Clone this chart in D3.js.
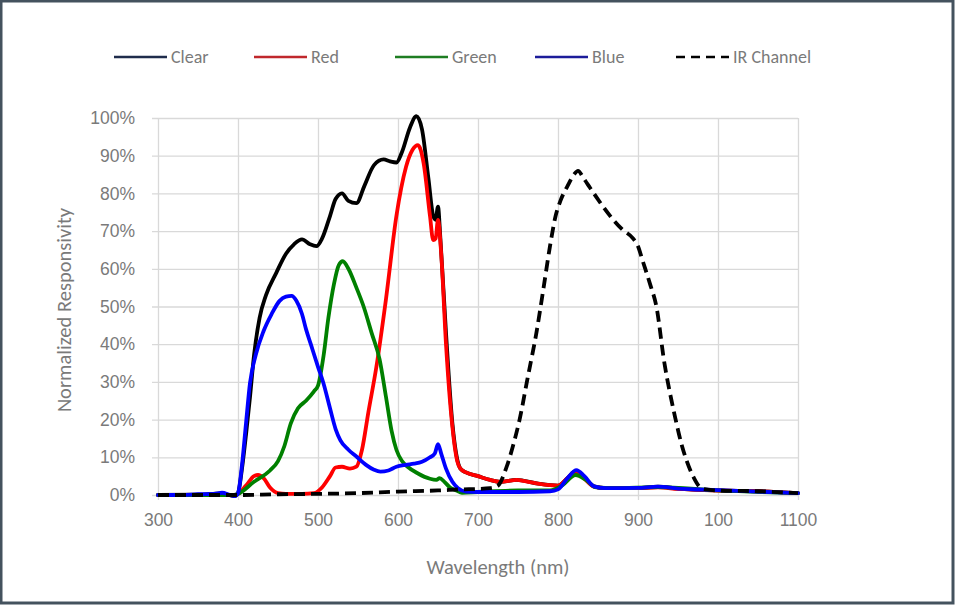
<!DOCTYPE html>
<html><head><meta charset="utf-8">
<script src="https://cdnjs.cloudflare.com/ajax/libs/d3/7.8.5/d3.min.js"></script>
<style>
html,body{margin:0;padding:0;background:#fff;}
svg{display:block;font-family:Carlito, Calibri, Lato, sans-serif;}
</style></head>
<body>
<svg id="chart" width="955" height="607"></svg>
<script>
const xTicks = [300,400,500,600,700,800,900,1000,1100];
const xTickLabels = ["300","400","500","600","700","800","900","100","1100"];
const yTicks = [0,10,20,30,40,50,60,70,80,90,100];

const clear = [[300,0],[350,0.1],[380,0.4],[395,-0.3],[400,0.5],[405,7],[410,16],[415,26],[420,37],[427,47],[435,53],[448,59],[460,64],[470,66.5],[480,67.8],[490,66.5],[498,66],[505,68],[515,74],[522,78.5],[530,80],[538,78],[548,77.4],[558,82],[570,87.5],[582,89],[590,88.5],[598,88.2],[605,91],[615,97.5],[623,100.5],[630,97],[638,84],[644,74],[647,73],[650,76.5],[653,68],[660,43],[668,19],[674,9.5],[678,7],[685,6],[700,5],[715,4],[728,3.5],[748,4],[775,3],[800,2.5],[812,4.5],[822,6.3],[832,4.7],[845,2.3],[860,1.8],[900,1.9],[925,2.2],[950,1.7],[1000,1.2],[1050,1],[1100,0.5]];
const red = [[300,0],[395,0],[400,0.3],[410,2.5],[420,5],[425,5.3],[432,4.5],[440,2],[450,0.5],[460,0.3],[480,0.3],[495,0.5],[505,2],[515,5],[522,7.3],[530,7.5],[540,7],[548,7.5],[555,12],[563,22],[573,34],[585,52],[598,74],[610,87],[618,91.5],[625,92.8],[632,88],[640,74],[644,67.6],[647,68],[650,73],[654,64],[660,40],[668,18],[674,9],[678,7],[685,6],[700,5],[715,4],[728,3.5],[740,3.8],[748,4],[760,3.6],[775,3],[790,2.6],[800,2.5],[812,4.5],[822,6.2],[832,4.5],[845,2.2],[860,1.8],[900,1.8],[925,2],[950,1.6],[1000,1.2],[1050,1],[1100,0.5]];
const green = [[300,0],[395,0],[400,0.3],[420,3.5],[440,6.5],[450,9],[458,13],[466,19],[475,23],[485,25],[495,27.5],[500,29],[507,37],[513,47],[520,56],[526,61],[531,62],[538,60],[548,55],[557,50],[567,43],[577,36],[585,26],[592,17],[598,12],[605,9],[612,7.5],[625,5.7],[640,4.3],[648,4],[652,4.5],[658,3.5],[665,2],[673,1.2],[680,0.6],[700,0.8],[750,1.2],[790,1.2],[805,2.5],[822,5.3],[835,4],[848,2],[870,1.8],[925,2.1],[1000,1.2],[1100,0.5]];
const blue = [[300,0],[330,0],[350,0.2],[370,0.3],[380,0.6],[390,0],[396,-0.3],[400,0.5],[405,8],[410,19],[415,29.7],[422,37],[432,43.5],[442,48],[452,51.5],[460,52.6],[467,52.8],[473,51.5],[480,48],[485,44],[491,40],[500,34],[507,29.5],[515,23],[522,17.5],[528,14.5],[538,12],[548,10.2],[560,8],[570,6.7],[578,6.2],[588,6.5],[598,7.5],[610,8],[620,8.3],[630,8.8],[640,10],[646,11],[650,13.5],[654,11],[660,7],[668,3.5],[675,1.8],[685,0.9],[700,0.8],[750,0.8],[790,1],[800,1.5],[812,4.5],[823,6.6],[833,5],[845,2.3],[860,1.8],[900,1.9],[925,2.2],[950,1.7],[1000,1.3],[1050,0.9],[1100,0.5]];
const ir = [[300,0],[400,0],[450,0.2],[500,0.3],[550,0.5],[600,0.9],[650,1.2],[680,1.5],[700,1.6],[715,1.8],[725,2.5],[735,7],[745,14],[752,20],[762,31],[773,43],[782,55],[790,66],[797,74],[803,78],[812,82],[820,85],[825,86],[832,84],[840,81.5],[848,79],[858,76],[869,73],[880,70.5],[894,68],[900,66],[906,62],[915,56],[923,50],[933,35],[940,27],[946,21],[955,13],[961,9],[970,4.5],[978,2],[985,1.5],[1000,1.2],[1050,1],[1100,0.5]];

const seriesNames = ["Clear","Red","Green","Blue","IR Channel"];
const seriesData = [clear, red, green, blue, ir];
const lineColors = ["#000000","#ff0000","#008000","#0000ff","#000000"];
const legendColors = ["#1f2c4c","#c0282c","#1e7d22","#1c1c9a","#000000"];
const dashed = [false,false,false,false,true];

const svg = d3.select("#chart");
const m = {left:158, right:798, top:118, bottom:495};

// frame
svg.append("rect").attr("x",1).attr("y",1).attr("width",952).attr("height",602)
  .attr("fill","#fff").attr("stroke","#44525e").attr("stroke-width",3);

const x = d3.scaleLinear().domain([300,1100]).range([m.left,m.right]);
const y = d3.scaleLinear().domain([0,100]).range([m.bottom,m.top]);

const gridColor = "#d9d9d9";
const textColor = "#7a7a7a";

// y axis with gridlines
const yAxis = d3.axisLeft(y).tickValues(yTicks).tickFormat(d=>d+"%")
  .tickSize(-(m.right-m.left)).tickSizeOuter(0).tickPadding(23);
const gy = svg.append("g").attr("transform",`translate(${m.left},0)`).call(yAxis);
gy.select(".domain").remove();
gy.selectAll(".tick line").attr("stroke",gridColor).attr("stroke-width",1.3).attr("x1",-6);
gy.selectAll(".tick text").attr("fill",textColor).style("font-size","17.5px");

// x axis with gridlines
const xAxis = d3.axisBottom(x).tickValues(xTicks).tickFormat((d,i)=>xTickLabels[i])
  .tickSize(-(m.bottom-m.top)).tickSizeOuter(0).tickPadding(19);
const gx = svg.append("g").attr("transform",`translate(0,${m.bottom})`).call(xAxis);
gx.select(".domain").remove();
gx.selectAll(".tick line").attr("stroke",gridColor).attr("stroke-width",1.3).attr("y1",5);
gx.selectAll(".tick text").attr("fill",textColor).style("font-size","17.5px");

// lines
const line = d3.line().x(d=>x(d[0])).y(d=>y(d[1])).curve(d3.curveMonotoneX);
seriesData.forEach((s,i)=>{
  svg.append("path").datum(s).attr("d",line)
    .attr("fill","none").attr("stroke",lineColors[i]).attr("stroke-width",3.8)
    .attr("stroke-linejoin","round")
    .attr("stroke-linecap", dashed[i] ? "butt" : "round")
    .attr("stroke-dasharray", dashed[i] ? "11,6" : null);
});

// axis titles
svg.append("text").attr("x",498).attr("y",574).attr("text-anchor","middle")
  .attr("fill",textColor).style("font-size","20.5px").text("Wavelength (nm)");
svg.append("text").attr("transform",`translate(71,310) rotate(-90)`)
  .attr("text-anchor","middle").attr("fill",textColor).style("font-size","20.5px")
  .text("Normalized Responsivity");

// legend
const legendX = [114,254,395,535,676];
seriesNames.forEach((n,i)=>{
  const g = svg.append("g").attr("transform",`translate(${legendX[i]},57)`);
  g.append("line").attr("x1",0).attr("x2",53).attr("y1",0).attr("y2",0)
    .attr("stroke",legendColors[i]).attr("stroke-width",2.5)
    .attr("stroke-dasharray", dashed[i] ? "9,6" : null);
  g.append("text").attr("x",57).attr("y",0).attr("dy","0.35em")
    .attr("fill",textColor).style("font-size","18px").text(n);
});
</script>
</body></html>
